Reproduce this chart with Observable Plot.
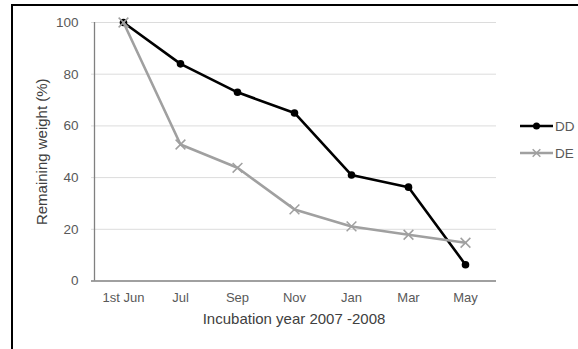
<!DOCTYPE html>
<html><head><meta charset="utf-8">
<script src="https://cdn.jsdelivr.net/npm/d3@7"></script>
<script src="https://cdn.jsdelivr.net/npm/@observablehq/plot@0.6"></script>
<style>
html,body{margin:0;padding:0;background:#fff;}
#wrap{position:relative;width:578px;height:349px;overflow:hidden;font-family:"Liberation Sans",Arial,sans-serif;}
#frame{position:absolute;left:11px;top:4px;width:600px;height:400px;border-left:2px solid #000;border-top:2px solid #000;}
#chart{position:absolute;left:0;top:0;}
#legend{position:absolute;left:518px;top:116px;}
</style></head>
<body><div id="wrap"><div id="frame"></div><div id="chart"></div><div id="legend"></div></div>
<script>
const months = ["1st Jun","Jul","Sep","Nov","Jan","Mar","May"];
const seriesNames = ["DD","DE"];
const dd = [100, 84, 73, 65, 41, 36.3, 6.3];
const de = [100, 52.8, 43.8, 27.7, 21.1, 17.9, 14.8];
const yTicks = [0,20,40,60,80,100];
const colors = {DD:"#000000", DE:"#a0a0a0"};

const rows = [];
months.forEach((m,i)=>{ rows.push({month:m, series:"DD", value:dd[i]}); });
months.forEach((m,i)=>{ rows.push({month:m, series:"DE", value:de[i]}); });
const ddRows = rows.filter(r=>r.series==="DD");
const deRows = rows.filter(r=>r.series==="DE");

const chart = Plot.plot({
  width:578, height:349,
  marginLeft:91, marginRight:82, marginTop:22, marginBottom:68.5,
  style:{fontFamily:"Liberation Sans, Arial, sans-serif", fontSize:"13px", color:"#595959", background:"transparent"},
  x:{type:"point", domain:months, padding:0.5, label:null},
  y:{domain:[0,100], ticks:yTicks, label:null},
  marks:[
    Plot.gridY(yTicks.filter(d=>d>0), {stroke:"#dcdcdc", strokeOpacity:1, strokeWidth:1}),
    Plot.axisY({ticks:yTicks, tickSize:0, tickPadding:13, label:null, fill:"#595959", fontSize:13.5}),
    Plot.axisX({tickSize:0, tickPadding:12, label:null, fill:"#595959", fontSize:13}),
    Plot.ruleY([0], {stroke:"#808080", strokeWidth:1.3}),
    Plot.ruleX([months[0]], {y1:0, y2:100, dx:-29, stroke:"#808080", strokeWidth:1.3}),
    Plot.line(ddRows, {x:"month", y:"value", stroke:colors.DD, strokeWidth:2.6}),
    Plot.dot(ddRows, {x:"month", y:"value", fill:colors.DD, r:3.8, symbol:"circle"}),
    Plot.line(deRows, {x:"month", y:"value", stroke:colors.DE, strokeWidth:2.6}),
    Plot.dot(deRows, {x:"month", y:"value", stroke:colors.DE, strokeWidth:1.5, r:4.5, symbol:"times"}),
    Plot.text(["Incubation year 2007 -2008"], {frameAnchor:"bottom", dy:43, fontSize:15, fill:"#404040"}),
    Plot.text(["Remaining weight (%)"], {frameAnchor:"left", textAnchor:"middle", dx:-49, rotate:-90, fontSize:15, fill:"#404040"})
  ]
});
document.getElementById("chart").appendChild(chart);

// legend
const lg = d3.select("#legend").append("svg").attr("width",60).attr("height",50)
  .style("font-family","Liberation Sans, Arial, sans-serif").style("font-size","13.5px");
seriesNames.forEach((s,i)=>{
  const g = lg.append("g").attr("transform",`translate(0,${10+i*27})`);
  g.append("line").attr("x1",2).attr("x2",35).attr("y1",0).attr("y2",0).attr("stroke",colors[s]).attr("stroke-width",2.6);
  if(s==="DD") g.append("circle").attr("cx",18.5).attr("cy",0).attr("r",3.5).attr("fill",colors[s]);
  else g.append("path").attr("d",d3.symbol(d3.symbolTimes, 40)()).attr("transform","translate(18.5,0)").attr("stroke",colors[s]).attr("stroke-width",1.5).attr("fill","none");
  g.append("text").attr("x",37).attr("y",0).attr("dy","0.35em").attr("fill","#595959").text(s);
});
</script></body></html>
